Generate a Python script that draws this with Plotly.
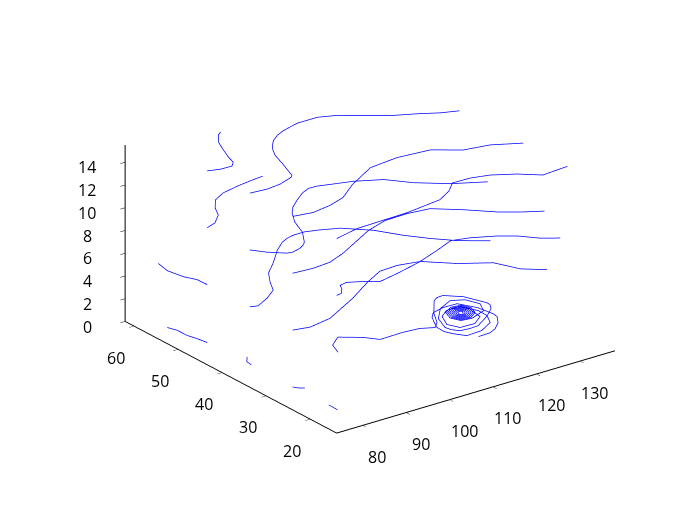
import plotly.graph_objects as go

# level 15
lon_15a = [80.5, 82.9, 85.5, 86.8, 87.5, 89.1, 90.2, 92.2, 93.3]
lat_15a = [49.8, 49.2, 49.1, 50.1, 51.9, 54.9, 56.8, 58.8, 59.4]
lon_15b = [80.6, 84.2, 87.5, 91.1, 91.8, 92.1, 93.7, 94.9, 96.4, 97.6, 98.8, 100.8, 102.7, 104.8, 107.1, 109.3, 111.7, 115.2, 119.0, 123.0, 127.5, 131.1, 134.5]
lat_15b = [40.2, 39.9, 40.2, 41.2, 41.7, 42.4, 45.8, 48.6, 50.7, 51.8, 52.8, 53.9, 54.6, 55.1, 55.6, 55.6, 55.6, 54.5, 52.3, 50.1, 48.4, 46.8, 45.8]
lon_15c = [80.4, 84.5, 89.0, 93.1, 98.1, 105.5, 112.2, 119.3, 124.1, 129.5, 134.9]
lat_15c = [30.3, 29.7, 30.3, 31.4, 34.2, 37.4, 38.0, 37.4, 34.7, 33.9, 31.7]
lon_15d = [80.7, 86.5, 90.2, 98.3, 106.8, 110.6, 113.3, 117.3, 121.1, 125.3, 128.9, 131.4, 134.9]
lat_15d = [20.6, 21.7, 21.8, 22.0, 22.9, 24.6, 26.5, 26.4, 25.6, 23.7, 21.3, 21.5, 21.7]

# level 10
lon_10a = [80.5, 83.0, 85.7, 87.2, 89.5, 92.6, 96.6, 99.9, 103.1]
lat_10a = [49.8, 50.5, 52.4, 54.6, 56.8, 58.1, 58.8, 59.2, 59.5]
lon_10b = [80.6, 82.5, 85.2, 86.3, 88.5, 89.8, 90.8, 93.3, 95.0, 97.1, 98.9, 101.5, 104.2, 106.5, 108.4, 110.8, 115.0, 120.0, 123.5, 128.7, 134.7]
lat_10b = [40.2, 38.2, 36.3, 36.1, 36.6, 37.2, 37.9, 40.8, 44.2, 46.9, 48.5, 50.1, 51.6, 52.4, 52.3, 51.7, 50.7, 48.7, 45.4, 42.1, 39.6]
lon_10c = [80.4, 84.8, 89.0, 93.4, 103.5, 108.8, 114.0, 118.7, 123.3, 127.7, 131.1, 134.9]
lat_10c = [30.3, 30.0, 30.3, 31.7, 35.9, 37.3, 37.4, 36.9, 33.9, 30.5, 28.6, 26.9]
lon_10d = [80.7, 82.0, 83.4, 84.0, 85.8, 88.5, 91.0, 95.7, 101.9, 108.0, 112.8, 116.5, 121.0, 123.9, 126.7, 129.7]
lat_10d = [20.6, 20.8, 22.1, 23.1, 23.4, 22.3, 20.9, 21.7, 23.0, 24.8, 26.4, 25.6, 23.9, 22.3, 19.8, 18.2]

# level 5
lon_5a = [80.5, 80.4, 79.2, 78.5, 79.2]
lat_5a = [49.8, 52.0, 53.9, 56.9, 59.6]
lon_5b = [80.6, 82.1, 85.6, 88.7, 90.5, 92.8, 96.3, 100.5, 103.5, 105.4, 107.1, 109.5, 112.0, 115.9, 118.1, 120.2, 123.2, 126.3, 129.7, 134.5]
lat_5b = [40.2, 39.8, 41.2, 42.9, 45.4, 48.0, 50.4, 53.6, 55.4, 56.1, 56.4, 56.4, 55.8, 54.5, 52.8, 51.2, 47.4, 44.3, 41.5, 38.8]
lon_5c = [80.4, 83.8, 89.2, 98.2, 104.8, 109.7, 113.9, 118.4, 123.3, 128.8, 131.1, 134.8]
lat_5c = [30.3, 29.7, 30.5, 34.2, 37.4, 39.4, 39.6, 38.8, 35.2, 32.5, 28.6, 26.2]

# level 5, runs into the vortex and winds down to its centre
lon_5d = [80.9, 82.1, 85.1, 86.4, 88.7, 90.7, 96.0, 99.6, 102.1,
          103.8, 105.9, 109.5, 110.8, 112.2, 114.9, 116.7, 116.6, 115.6, 113.1, 109.0, 106.9, 104.9, 103.9, 103.6, 105.1, 108.2, 111.9, 114.3, 115.4, 114.0,
          110.17, 107.90, 107.00, 107.87, 110.03, 112.17, 113.00, 112.19,
          110.16, 108.18, 107.40, 108.16, 110.04, 111.89, 112.60, 111.90,
          110.15, 108.46, 107.80, 108.45, 110.05, 111.61, 112.20, 111.60,
          110.15, 108.74, 108.20, 108.75, 110.06, 111.33, 111.80, 111.31,
          110.14, 109.02, 108.60, 109.04, 110.07, 111.05, 111.40, 111.02,
          110.13, 109.30, 109.00, 109.33, 110.08, 110.77, 111.00, 110.72,
          110.12, 109.58, 109.40, 109.62, 110.09, 110.49, 110.60, 110.43, 110.20]
lat_5d = [20.5, 22.9, 24.7, 23.9, 22.6, 20.6, 20.7, 20.4, 19.4,
          20.6, 23.4, 26.9, 27.5, 27.6, 25.6, 22.0, 21.2, 20.0, 18.4, 16.4, 16.3, 16.5, 17.5, 18.6, 21.6, 24.2, 25.6, 24.6, 22.3, 20.1,
          18.94, 19.23, 20.80, 22.66, 23.71, 23.43, 21.96, 20.23,
          19.24, 19.51, 20.88, 22.49, 23.40, 23.15, 21.88, 20.39,
          19.55, 19.78, 20.96, 22.33, 23.09, 22.88, 21.81, 20.56,
          19.86, 20.06, 21.03, 22.16, 22.79, 22.60, 21.73, 20.72,
          20.17, 20.33, 21.11, 22.00, 22.48, 22.33, 21.65, 20.89,
          20.48, 20.61, 21.19, 21.83, 22.17, 22.05, 21.57, 21.05,
          20.78, 20.88, 21.27, 21.67, 21.86, 21.78, 21.50, 21.22, 21.20]

# level 4, the second loop round the vortex
lon_4a = [109.2, 111.9, 113.8, 115.9, 117.5, 117.7, 117.1, 115.2, 112.1, 109.2, 107.7, 106.6, 105.6, 105.5, 106.2, 107.7, 111.3, 114.8, 116.3, 116.4, 114.6, 111.7, 109.4, 107.9, 109.0, 112.3, 115.0, 115.5]
lat_4a = [16.5, 16.6, 17.3, 18.7, 20.5, 21.6, 24.6, 27.3, 27.4, 26.8, 25.6, 24.0, 22.4, 20.7, 19.4, 17.7, 17.9, 19.4, 21.6, 23.7, 26.4, 26.3, 25.0, 22.4, 20.5, 20.4, 21.9, 24.6]

# level 0
lon_0a = [80.2, 79.8, 79.2, 79.2, 78.5]
lat_0a = [49.5, 51.4, 53.1, 55.3, 56.9]
lon_0b = [80.5, 80.7, 82.1]
lat_0b = [39.8, 41.0, 42.3]
lon_0c = [80.4, 80.9, 81.9]
lat_0c = [30.3, 29.6, 29.0]
lon_0d = [80.6, 80.7, 80.7]
lat_0d = [20.3, 21.5, 22.4]

tracks = [
    (15, lon_15a, lat_15a), (15, lon_15b, lat_15b), (15, lon_15c, lat_15c), (15, lon_15d, lat_15d),
    (10, lon_10a, lat_10a), (10, lon_10b, lat_10b), (10, lon_10c, lat_10c), (10, lon_10d, lat_10d),
    (5, lon_5a, lat_5a), (5, lon_5b, lat_5b), (5, lon_5c, lat_5c), (5, lon_5d, lat_5d),
    (4, lon_4a, lat_4a),
    (0, lon_0a, lat_0a), (0, lon_0b, lat_0b), (0, lon_0c, lat_0c), (0, lon_0d, lat_0d),
]

lon_ticks = [80, 90, 100, 110, 120, 130]
lat_ticks = [20, 30, 40, 50, 60]
level_ticks = [0, 2, 4, 6, 8, 10, 12, 14]
lon_range = [74, 138]
lat_range = [14, 62]
level_range = [0, 15.5]

axis_style = dict(
    showgrid=False,
    zeroline=False,
    showbackground=False,
    showspikes=False,
    showline=True,
    linecolor="black",
    linewidth=2,
    ticks="outside",
    ticklen=6,
    tickcolor="black",
    tickwidth=1,
    showticklabels=False,
    title=dict(text=""),
)


def tick_label(x, y, z, text, xshift, yshift):
    # the axis tick labels sit too close to the box, so they are placed by hand
    # anchors stay a little inside the box, labels on its edge can get dropped
    return dict(
        x=x, y=y, z=z, text=text, showarrow=False, xshift=xshift, yshift=yshift,
        font=dict(family="Open Sans", size=16, color="black"),
    )


labels = (
    [tick_label(v, 15, 0, str(v), 19, -34) for v in lon_ticks]
    + [tick_label(75, v, 0, str(v), -22, -33) for v in lat_ticks]
    + [tick_label(75, 60, v, str(v), -51, -2) for v in level_ticks]
)

fig = go.Figure()
for level, lon, lat in tracks:
    fig.add_trace(go.Scatter3d(x=lon, y=lat, z=[level] * len(lon), mode="lines", line=dict(color="blue", width=1.5)))

fig.update_layout(
    width=700,
    height=525,
    margin=dict(l=0, r=0, t=0, b=0),
    showlegend=False,
    paper_bgcolor="white",
    scene=dict(
        domain=dict(x=[0.034, 1], y=[0.09, 0.9967]),
        xaxis=dict(axis_style, range=lon_range, tickvals=lon_ticks),
        yaxis=dict(axis_style, range=lat_range, tickvals=lat_ticks),
        zaxis=dict(axis_style, range=level_range, tickvals=level_ticks, ticklen=10),
        aspectmode="manual",
        aspectratio=dict(x=1.46, y=1.483, z=0.806),
        camera=dict(
            projection=dict(type="orthographic"),
            eye=dict(x=-1.1, y=-1.47, z=0.79),
            up=dict(x=0, y=0, z=1),
        ),
        annotations=labels,
    ),
)
fig.write_html("out.html")
